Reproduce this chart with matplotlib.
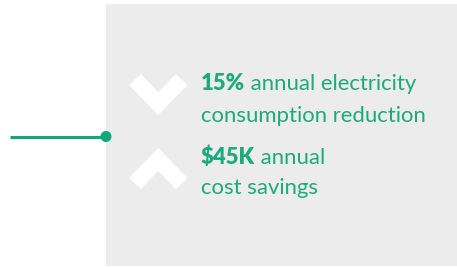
import matplotlib
matplotlib.use("Agg")
import matplotlib.pyplot as plt
from matplotlib.patches import Polygon, Rectangle, Circle

# Data / text content
highlights = ["15%", "$45K"]
line1_rest = [" annual electricity", " annual"]
line2_text = ["consumption reduction", "cost savings"]
directions = ["down", "up"]

GREEN = "#0fa878"
TEXT_GREEN = "#1daa7c"
GRAY = "#ececec"
FONT = "Lato"
FS = 15.9

fig = plt.figure(figsize=(4.57, 2.67), dpi=100)
ax = fig.add_axes([0, 0, 1, 1])
ax.set_xlim(0, 457)
ax.set_ylim(267, 0)
ax.axis("off")

ax.add_patch(Rectangle((106, 4), 351, 262, facecolor=GRAY, edgecolor="none"))
ax.plot([10, 106], [136.5, 136.5], color=GREEN, lw=2.2, solid_capstyle="butt")
ax.add_patch(Circle((106, 136.5), 4.8, color=GREEN, zorder=5))

def chevron(direction, top):
    if direction == "down":
        pts = [(129, top + 11), (140.7, top), (158.3, top + 18), (175.9, top),
               (187.5, top + 11), (158.3, top + 41)]
    else:
        b = top + 41
        pts = [(129, b - 11), (140.7, b), (158.3, b - 18), (175.9, b),
               (187.5, b - 11), (158.3, b - 41)]
    ax.add_patch(Polygon(pts, closed=True, facecolor="white", edgecolor="none"))

chevron(directions[0], 74)
chevron(directions[1], 148)

fig.canvas.draw()
r = fig.canvas.get_renderer()
baselines = [(90, 121.5), (164, 194)]
for i in range(2):
    b1, b2 = baselines[i]
    t = ax.text(201, b1, highlights[i], fontsize=FS, fontweight="heavy", color=TEXT_GREEN,
                family=FONT, va="baseline", ha="left")
    bb = t.get_window_extent(renderer=r)
    x_end = ax.transData.inverted().transform((bb.x1, bb.y0))[0]
    ax.text(x_end, b1, line1_rest[i], fontsize=FS, color=TEXT_GREEN, family=FONT,
            va="baseline", ha="left")
    ax.text(201, b2, line2_text[i], fontsize=FS, color=TEXT_GREEN, family=FONT,
            va="baseline", ha="left")

fig.savefig("out.png", dpi=100)
